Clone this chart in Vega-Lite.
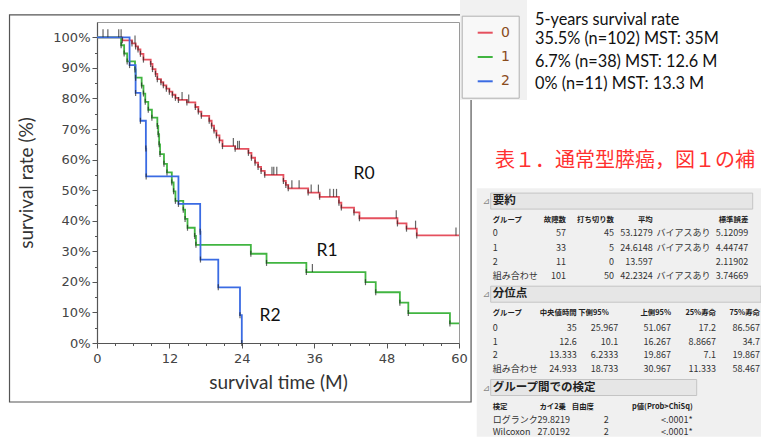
{
  "$schema": "https://vega.github.io/schema/vega-lite/v6.json",
  "width": 362,
  "height": 321,
  "autosize": "none",
  "padding": {"left": 97, "top": 22, "right": 302, "bottom": 95},
  "background": "white",
  "config": {
    "view": {"stroke": "#9a9a9a", "strokeWidth": 1},
    "axis": {"domainColor": "#555", "domainWidth": 1.2, "tickColor": "#555", "labelFont": "DejaVu Sans", "labelFontSize": 13, "labelColor": "#444", "titleFont": "Lato", "titleFontSize": 19, "titleFontWeight": "normal", "titleColor": "#333", "grid": false, "labelOverlap": false, "labelFlush": false}
  },
  "datasets": {
    "km": [
      {"g": "0", "t": 0, "s": 100, "k": "start"},
      {"g": "0", "t": 1.0, "s": 100, "k": "c"},
      {"g": "0", "t": 1.8, "s": 100, "k": "c"},
      {"g": "0", "t": 3.6, "s": 100, "k": "c"},
      {"g": "0", "t": 4.0, "s": 100, "k": "c"},
      {"g": "0", "t": 4.2, "s": 99.0, "k": "e"},
      {"g": "0", "t": 5.8, "s": 98.0, "k": "e"},
      {"g": "0", "t": 6.3, "s": 98.0, "k": "c"},
      {"g": "0", "t": 6.4, "s": 97.0, "k": "e"},
      {"g": "0", "t": 6.8, "s": 96.0, "k": "e"},
      {"g": "0", "t": 7.2, "s": 94.6, "k": "e"},
      {"g": "0", "t": 7.7, "s": 92.7, "k": "e"},
      {"g": "0", "t": 8.9, "s": 91.3, "k": "e"},
      {"g": "0", "t": 9.2, "s": 89.6, "k": "e"},
      {"g": "0", "t": 9.7, "s": 88.0, "k": "e"},
      {"g": "0", "t": 10.0, "s": 86.3, "k": "e"},
      {"g": "0", "t": 10.6, "s": 85.3, "k": "e"},
      {"g": "0", "t": 11.0, "s": 84.3, "k": "e"},
      {"g": "0", "t": 11.5, "s": 83.2, "k": "e"},
      {"g": "0", "t": 12.0, "s": 82.2, "k": "e"},
      {"g": "0", "t": 12.5, "s": 81.2, "k": "e"},
      {"g": "0", "t": 13.0, "s": 80.2, "k": "e"},
      {"g": "0", "t": 13.5, "s": 79.5, "k": "e"},
      {"g": "0", "t": 14.1, "s": 79.5, "k": "c"},
      {"g": "0", "t": 14.9, "s": 78.7, "k": "e"},
      {"g": "0", "t": 15.2, "s": 78.7, "k": "c"},
      {"g": "0", "t": 16.3, "s": 77.2, "k": "e"},
      {"g": "0", "t": 16.8, "s": 75.7, "k": "e"},
      {"g": "0", "t": 17.3, "s": 74.3, "k": "e"},
      {"g": "0", "t": 18.6, "s": 72.7, "k": "e"},
      {"g": "0", "t": 19.0, "s": 71.1, "k": "e"},
      {"g": "0", "t": 19.4, "s": 69.5, "k": "e"},
      {"g": "0", "t": 19.8, "s": 67.9, "k": "e"},
      {"g": "0", "t": 20.3, "s": 66.3, "k": "e"},
      {"g": "0", "t": 20.8, "s": 64.4, "k": "e"},
      {"g": "0", "t": 22.6, "s": 64.4, "k": "c"},
      {"g": "0", "t": 22.9, "s": 63.5, "k": "e"},
      {"g": "0", "t": 23.3, "s": 63.5, "k": "c"},
      {"g": "0", "t": 23.6, "s": 63.5, "k": "c"},
      {"g": "0", "t": 25.1, "s": 62.2, "k": "e"},
      {"g": "0", "t": 25.6, "s": 60.6, "k": "e"},
      {"g": "0", "t": 26.2, "s": 59.0, "k": "e"},
      {"g": "0", "t": 26.7, "s": 57.6, "k": "e"},
      {"g": "0", "t": 27.2, "s": 56.3, "k": "e"},
      {"g": "0", "t": 27.8, "s": 55.0, "k": "e"},
      {"g": "0", "t": 29.0, "s": 55.0, "k": "c"},
      {"g": "0", "t": 29.3, "s": 55.0, "k": "c"},
      {"g": "0", "t": 29.8, "s": 55.0, "k": "c"},
      {"g": "0", "t": 30.9, "s": 53.0, "k": "e"},
      {"g": "0", "t": 31.3, "s": 51.7, "k": "e"},
      {"g": "0", "t": 31.7, "s": 50.6, "k": "e"},
      {"g": "0", "t": 32.3, "s": 50.6, "k": "c"},
      {"g": "0", "t": 33.5, "s": 50.6, "k": "c"},
      {"g": "0", "t": 35.0, "s": 49.2, "k": "e"},
      {"g": "0", "t": 35.5, "s": 49.2, "k": "c"},
      {"g": "0", "t": 36.7, "s": 49.2, "k": "c"},
      {"g": "0", "t": 36.9, "s": 47.8, "k": "e"},
      {"g": "0", "t": 38.6, "s": 47.8, "k": "c"},
      {"g": "0", "t": 39.2, "s": 47.8, "k": "c"},
      {"g": "0", "t": 39.7, "s": 47.8, "k": "c"},
      {"g": "0", "t": 40.1, "s": 45.9, "k": "e"},
      {"g": "0", "t": 40.5, "s": 44.3, "k": "e"},
      {"g": "0", "t": 42.6, "s": 42.7, "k": "e"},
      {"g": "0", "t": 43.5, "s": 40.8, "k": "e"},
      {"g": "0", "t": 49.6, "s": 40.8, "k": "c"},
      {"g": "0", "t": 49.8, "s": 39.1, "k": "e"},
      {"g": "0", "t": 51.3, "s": 37.4, "k": "e"},
      {"g": "0", "t": 52.8, "s": 37.4, "k": "c"},
      {"g": "0", "t": 53.0, "s": 35.2, "k": "e"},
      {"g": "0", "t": 59.5, "s": 35.2, "k": "c"},
      {"g": "0", "t": 60, "s": 35.2, "k": "end"},
      {"g": "1", "t": 0, "s": 100, "k": "start"},
      {"g": "1", "t": 4.0, "s": 97.4, "k": "e"},
      {"g": "1", "t": 4.5, "s": 94.7, "k": "e"},
      {"g": "1", "t": 5.0, "s": 92.1, "k": "e"},
      {"g": "1", "t": 6.3, "s": 89.5, "k": "e"},
      {"g": "1", "t": 6.4, "s": 86.8, "k": "e"},
      {"g": "1", "t": 7.4, "s": 84.2, "k": "e"},
      {"g": "1", "t": 7.7, "s": 81.6, "k": "e"},
      {"g": "1", "t": 8.0, "s": 78.9, "k": "e"},
      {"g": "1", "t": 8.5, "s": 76.3, "k": "e"},
      {"g": "1", "t": 9.1, "s": 73.7, "k": "e"},
      {"g": "1", "t": 10.0, "s": 71.0, "k": "e"},
      {"g": "1", "t": 10.15, "s": 68.3, "k": "e"},
      {"g": "1", "t": 10.3, "s": 65.0, "k": "e"},
      {"g": "1", "t": 10.45, "s": 61.8, "k": "e"},
      {"g": "1", "t": 11.1, "s": 58.6, "k": "e"},
      {"g": "1", "t": 11.6, "s": 55.8, "k": "e"},
      {"g": "1", "t": 12.4, "s": 52.5, "k": "e"},
      {"g": "1", "t": 12.7, "s": 49.6, "k": "e"},
      {"g": "1", "t": 13.0, "s": 46.5, "k": "e"},
      {"g": "1", "t": 14.3, "s": 43.6, "k": "e"},
      {"g": "1", "t": 14.6, "s": 40.6, "k": "e"},
      {"g": "1", "t": 15.0, "s": 37.7, "k": "e"},
      {"g": "1", "t": 16.2, "s": 35.0, "k": "e"},
      {"g": "1", "t": 16.4, "s": 32.1, "k": "e"},
      {"g": "1", "t": 25.5, "s": 29.2, "k": "e"},
      {"g": "1", "t": 28.1, "s": 26.2, "k": "e"},
      {"g": "1", "t": 34.7, "s": 23.2, "k": "e"},
      {"g": "1", "t": 35.7, "s": 23.2, "k": "c"},
      {"g": "1", "t": 44.5, "s": 19.9, "k": "e"},
      {"g": "1", "t": 46.2, "s": 16.6, "k": "e"},
      {"g": "1", "t": 50.2, "s": 13.2, "k": "e"},
      {"g": "1", "t": 51.6, "s": 9.8, "k": "e"},
      {"g": "1", "t": 58.5, "s": 6.4, "k": "e"},
      {"g": "1", "t": 60, "s": 6.4, "k": "end"},
      {"g": "2", "t": 0, "s": 100, "k": "start"},
      {"g": "2", "t": 5.4, "s": 90.9, "k": "e"},
      {"g": "2", "t": 6.4, "s": 81.8, "k": "e"},
      {"g": "2", "t": 7.2, "s": 72.7, "k": "e"},
      {"g": "2", "t": 8.1, "s": 63.6, "k": "e"},
      {"g": "2", "t": 8.15, "s": 54.5, "k": "e"},
      {"g": "2", "t": 13.5, "s": 45.5, "k": "e"},
      {"g": "2", "t": 17.1, "s": 36.4, "k": "e"},
      {"g": "2", "t": 17.15, "s": 27.3, "k": "e"},
      {"g": "2", "t": 20.1, "s": 18.2, "k": "e"},
      {"g": "2", "t": 23.7, "s": 9.1, "k": "e"},
      {"g": "2", "t": 24.0, "s": 0, "k": "e"}
    ],
    "labels": [
      {"lab": "R0", "t": 44.26, "s": 55.4},
      {"lab": "R1", "t": 38.12, "s": 30.1},
      {"lab": "R2", "t": 28.68, "s": 8.7}
    ],
    "bars": [
      {"line": 6, "from": 2, "to": 20},
      {"line": 12, "from": 2, "to": 22},
      {"line": 18, "from": 2, "to": 17}
    ],
    "notes": [
      {"part": "annot", "line": 0, "col": 5, "text": "5-years survival rate"},
      {"part": "annot", "line": 1, "col": 5, "text": "35.5% (n=102) MST: 35M"},
      {"part": "annot", "line": 2, "col": 5, "text": "6.7% (n=38) MST: 12.6 M"},
      {"part": "annot", "line": 3, "col": 5, "text": "0% (n=11) MST: 13.3 M"},
      {"part": "title", "line": 4, "col": 4, "text": "表１．通常型膵癌，図１の補"},
      {"part": "sec", "line": 6, "col": 3, "text": "要約"},
      {"part": "head", "line": 7, "col": 3, "text": "グループ"},
      {"part": "head", "line": 7, "col": 6, "text": "故障数"},
      {"part": "head", "line": 7, "col": 11, "text": "打ち切り数"},
      {"part": "head", "line": 7, "col": 13, "text": "平均"},
      {"part": "head", "line": 7, "col": 19, "text": "標準誤差"},
      {"part": "body", "line": 8, "col": 3, "text": "0"},
      {"part": "body", "line": 8, "col": 6, "text": "57"},
      {"part": "body", "line": 8, "col": 11, "text": "45"},
      {"part": "body", "line": 8, "col": 13, "text": "53.1279"},
      {"part": "body", "line": 8, "col": 14, "text": "バイアスあり"},
      {"part": "body", "line": 8, "col": 19, "text": "5.12099"},
      {"part": "body", "line": 9, "col": 3, "text": "1"},
      {"part": "body", "line": 9, "col": 6, "text": "33"},
      {"part": "body", "line": 9, "col": 11, "text": "5"},
      {"part": "body", "line": 9, "col": 13, "text": "24.6148"},
      {"part": "body", "line": 9, "col": 14, "text": "バイアスあり"},
      {"part": "body", "line": 9, "col": 19, "text": "4.44747"},
      {"part": "body", "line": 10, "col": 3, "text": "2"},
      {"part": "body", "line": 10, "col": 6, "text": "11"},
      {"part": "body", "line": 10, "col": 11, "text": "0"},
      {"part": "body", "line": 10, "col": 13, "text": "13.597"},
      {"part": "body", "line": 10, "col": 19, "text": "2.11902"},
      {"part": "body", "line": 11, "col": 3, "text": "組み合わせ"},
      {"part": "body", "line": 11, "col": 6, "text": "101"},
      {"part": "body", "line": 11, "col": 11, "text": "50"},
      {"part": "body", "line": 11, "col": 13, "text": "42.2324"},
      {"part": "body", "line": 11, "col": 14, "text": "バイアスあり"},
      {"part": "body", "line": 11, "col": 19, "text": "3.74669"},
      {"part": "sec", "line": 12, "col": 3, "text": "分位点"},
      {"part": "head", "line": 13, "col": 3, "text": "グループ"},
      {"part": "head", "line": 13, "col": 8, "text": "中央値時間"},
      {"part": "head", "line": 13, "col": 10, "text": "下側95%"},
      {"part": "head", "line": 13, "col": 15, "text": "上側95%"},
      {"part": "head", "line": 13, "col": 18, "text": "25%寿命"},
      {"part": "head", "line": 13, "col": 21, "text": "75%寿命"},
      {"part": "body", "line": 14, "col": 3, "text": "0"},
      {"part": "body", "line": 14, "col": 8, "text": "35"},
      {"part": "body", "line": 14, "col": 12, "text": "25.967"},
      {"part": "body", "line": 14, "col": 15, "text": "51.067"},
      {"part": "body", "line": 14, "col": 18, "text": "17.2"},
      {"part": "body", "line": 14, "col": 21, "text": "86.567"},
      {"part": "body", "line": 15, "col": 3, "text": "1"},
      {"part": "body", "line": 15, "col": 8, "text": "12.6"},
      {"part": "body", "line": 15, "col": 12, "text": "10.1"},
      {"part": "body", "line": 15, "col": 15, "text": "16.267"},
      {"part": "body", "line": 15, "col": 18, "text": "8.8667"},
      {"part": "body", "line": 15, "col": 21, "text": "34.7"},
      {"part": "body", "line": 16, "col": 3, "text": "2"},
      {"part": "body", "line": 16, "col": 8, "text": "13.333"},
      {"part": "body", "line": 16, "col": 12, "text": "6.2333"},
      {"part": "body", "line": 16, "col": 15, "text": "19.867"},
      {"part": "body", "line": 16, "col": 18, "text": "7.1"},
      {"part": "body", "line": 16, "col": 21, "text": "19.867"},
      {"part": "body", "line": 17, "col": 3, "text": "組み合わせ"},
      {"part": "body", "line": 17, "col": 8, "text": "24.933"},
      {"part": "body", "line": 17, "col": 12, "text": "18.733"},
      {"part": "body", "line": 17, "col": 15, "text": "30.967"},
      {"part": "body", "line": 17, "col": 18, "text": "11.333"},
      {"part": "body", "line": 17, "col": 21, "text": "58.467"},
      {"part": "sec", "line": 18, "col": 3, "text": "グループ間での検定"},
      {"part": "head", "line": 19, "col": 3, "text": "検定"},
      {"part": "head", "line": 19, "col": 6, "text": "カイ2乗"},
      {"part": "head", "line": 19, "col": 9, "text": "自由度"},
      {"part": "head", "line": 19, "col": 16, "text": "p値(Prob>ChiSq)"},
      {"part": "body", "line": 20, "col": 3, "text": "ログランク"},
      {"part": "body", "line": 20, "col": 7, "text": "29.8219"},
      {"part": "body", "line": 20, "col": 10, "text": "2"},
      {"part": "body", "line": 20, "col": 16, "text": "<.0001*"},
      {"part": "body", "line": 21, "col": 3, "text": "Wilcoxon"},
      {"part": "body", "line": 21, "col": 7, "text": "27.0192"},
      {"part": "body", "line": 21, "col": 10, "text": "2"},
      {"part": "body", "line": 21, "col": 16, "text": "<.0001*"}
    ]
  },
  "layer": [
    {
      "layer": [
        {
          "data": {"values": [{}]},
          "mark": {"type": "rect", "fill": "transparent", "stroke": "#555", "strokeWidth": 1.2, "clip": false},
          "encoding": {
            "x": {"datum": -14.5, "type": "quantitative", "scale": {"domain": [0, 60], "nice": false, "zero": false}},
            "x2": {"datum": 62},
            "y": {"datum": 107.3, "type": "quantitative", "scale": {"domain": [0, 105], "nice": false, "zero": false}},
            "y2": {"datum": -19.3}
          }
        },
        {
          "data": {"values": [{}]},
          "mark": {"type": "rect", "fill": "#f1f1f1", "clip": false},
          "encoding": {
            "x": {"datum": 60.17, "type": "quantitative"},
            "x2": {"datum": 71.27},
            "y": {"datum": 112.2, "type": "quantitative"},
            "y2": {"datum": 79.5}
          }
        },
        {
          "data": {"name": "km"},
          "mark": {"type": "line", "interpolate": "step-after", "strokeWidth": 1.8},
          "encoding": {
            "x": {"field": "t", "type": "quantitative", "scale": {"domain": [0, 60], "nice": false, "zero": false},
              "axis": {"title": "survival time (M)", "values": [0, 3, 6, 9, 12, 15, 18, 21, 24, 27, 30, 33, 36, 39, 42, 45, 48, 51, 54, 57, 60], "tickCount": 40,
                "labelExpr": "datum.value % 12 === 0 ? datum.label : ''", "labelOverlap": false,
                "tickSize": {"condition": {"test": "datum.value % 12 === 0", "value": 5}, "value": 2.5},
                "labelPadding": 4, "titleY": 45.3, "titleBaseline": "alphabetic"}},
            "y": {"field": "s", "type": "quantitative", "scale": {"domain": [0, 105], "nice": false, "zero": false},
              "axis": {"title": "survival rate (%)", "values": [0, 5, 10, 15, 20, 25, 30, 35, 40, 45, 50, 55, 60, 65, 70, 75, 80, 85, 90, 95, 100], "tickCount": 40,
                "labelExpr": "datum.value % 10 === 0 ? datum.label + '%' : ''", "labelOverlap": false,
                "tickSize": {"condition": {"test": "datum.value % 10 === 0", "value": 5}, "value": 2.5},
                "labelPadding": 2, "titleX": -65, "titleY": 160.5, "titleAngle": -90, "titleAlign": "center", "titleBaseline": "alphabetic"}},
            "color": {"field": "g", "type": "nominal",
              "scale": {"domain": ["0", "1", "2"], "range": ["#e5505e", "#41b541", "#3a6be3"]},
              "legend": {"orient": "none", "legendX": 364.7, "legendY": -6.3, "title": null, "direction": "vertical",
                "symbolType": "stroke", "symbolStrokeWidth": 2, "symbolSize": 225, "symbolOffset": 6.5,
                "labelFont": "DejaVu Sans", "labelFontSize": 14, "labelColor": "#8a4b1c", "labelOffset": 7.3,
                "padding": 8.5, "rowPadding": 8.3, "strokeColor": "#b0b0b0", "fillColor": "#f8f8f8"}}
          }
        },
        {
          "data": {"name": "km"},
          "transform": [{"filter": "datum.k === 'e'"}],
          "mark": {"type": "tick", "orient": "vertical", "color": "#222", "thickness": 1.2, "size": 6},
          "encoding": {
            "x": {"field": "t", "type": "quantitative"},
            "y": {"field": "s", "type": "quantitative"}
          }
        },
        {
          "data": {"name": "km"},
          "transform": [{"filter": "datum.k === 'c'"}],
          "mark": {"type": "tick", "orient": "vertical", "color": "#222", "thickness": 1.2, "size": 8, "yOffset": -4},
          "encoding": {
            "x": {"field": "t", "type": "quantitative"},
            "y": {"field": "s", "type": "quantitative"}
          }
        },
        {
          "data": {"name": "labels"},
          "mark": {"type": "text", "font": "Lato", "fontSize": 17.5, "color": "#111", "align": "center", "baseline": "middle"},
          "encoding": {
            "x": {"field": "t", "type": "quantitative"},
            "y": {"field": "s", "type": "quantitative"},
            "text": {"field": "lab"}
          }
        }
      ]
    },
    {
      "layer": [
        {
          "data": {"values": [{}]},
          "mark": {"type": "rect", "fill": "#f0f0f0", "clip": false},
          "encoding": {
            "x": {"datum": 0, "type": "quantitative", "scale": {"domain": [0,1,2,3,4,5,6,7,8,9,10,11,12,13,14,15,16,17,18,19,20,21,22], "range": [379.7,389.5,393.7,395.7,398,438,469,473,479.7,497,511.8,517,521.3,555.7,559.5,574,595.7,599.7,619,651.3,655.7,663,664], "nice": false, "zero": false}, "axis": null},
            "x2": {"datum": 22},
            "y": {"datum": 5, "type": "quantitative", "scale": {"domain": [0,1,2,3,4,5,6,7,8,9,10,11,12,13,14,15,16,17,18,19,20,21,22], "range": [-1.8,21.5,44.5,67.3,144.5,166.3,179.1,198,211.3,225.6,239.7,254,272.2,291.3,306.3,319.7,333,347.3,365.5,385.2,398.4,410.3,416], "nice": false, "zero": false}, "axis": null},
            "y2": {"datum": 22}
          }
        },
        {
          "data": {"name": "bars"},
          "mark": {"type": "bar", "orient": "horizontal", "size": 16, "fill": "#e6e6e6", "stroke": "#c4c4c4", "strokeWidth": 1, "clip": false},
          "encoding": {
            "x": {"field": "from", "type": "quantitative"},
            "x2": {"field": "to"},
            "y": {"field": "line", "type": "quantitative"}
          }
        },
        {
          "data": {"name": "bars"},
          "mark": {"type": "text", "text": "⊿", "font": "DejaVu Sans", "fontSize": 9, "color": "#888", "align": "center", "baseline": "middle"},
          "encoding": {
            "x": {"datum": 1, "type": "quantitative"},
            "y": {"field": "line", "type": "quantitative"}
          }
        },
        {
          "data": {"name": "notes"},
          "transform": [{"filter": "datum.part === 'sec'"}],
          "mark": {"type": "text", "font": "Noto Sans CJK JP", "fontSize": 11.5, "fontWeight": "bold", "color": "#222", "align": "left", "baseline": "middle"},
          "encoding": {
            "x": {"field": "col", "type": "quantitative"},
            "y": {"field": "line", "type": "quantitative"},
            "text": {"field": "text"}
          }
        },
        {
          "data": {"name": "notes"},
          "transform": [{"filter": "datum.part === 'annot'"}],
          "mark": {"type": "text", "font": "Lato", "fontSize": 16.3, "color": "#111", "align": "left", "baseline": "alphabetic"},
          "encoding": {
            "x": {"field": "col", "type": "quantitative"},
            "y": {"field": "line", "type": "quantitative"},
            "text": {"field": "text"}
          }
        },
        {
          "data": {"name": "notes"},
          "transform": [{"filter": "datum.part === 'title'"}],
          "mark": {"type": "text", "font": "Noto Sans CJK JP", "fontSize": 20, "color": "#ff3030", "align": "left", "baseline": "alphabetic"},
          "encoding": {
            "x": {"field": "col", "type": "quantitative"},
            "y": {"field": "line", "type": "quantitative"},
            "text": {"field": "text"}
          }
        },
        {
          "data": {"name": "notes"},
          "transform": [{"filter": "datum.part === 'head' && datum.col === 3"}],
          "mark": {"type": "text", "font": "Noto Sans CJK JP", "fontSize": 7.4, "fontWeight": "bold", "color": "#222", "align": "left", "baseline": "middle"},
          "encoding": {
            "x": {"field": "col", "type": "quantitative"},
            "y": {"field": "line", "type": "quantitative"},
            "text": {"field": "text"}
          }
        },
        {
          "data": {"name": "notes"},
          "transform": [{"filter": "datum.part === 'head' && datum.col !== 3"}],
          "mark": {"type": "text", "font": "Noto Sans CJK JP", "fontSize": 7.4, "fontWeight": "bold", "color": "#222", "align": "right", "baseline": "middle"},
          "encoding": {
            "x": {"field": "col", "type": "quantitative"},
            "y": {"field": "line", "type": "quantitative"},
            "text": {"field": "text"}
          }
        },
        {
          "data": {"name": "notes"},
          "transform": [{"filter": "datum.part === 'body' && (datum.col === 3 || datum.col === 14)"}],
          "mark": {"type": "text", "font": "Noto Sans CJK JP", "fontSize": 9, "color": "#333", "align": "left", "baseline": "middle"},
          "encoding": {
            "x": {"field": "col", "type": "quantitative"},
            "y": {"field": "line", "type": "quantitative"},
            "text": {"field": "text"}
          }
        },
        {
          "data": {"name": "notes"},
          "transform": [{"filter": "datum.part === 'body' && datum.col !== 3 && datum.col !== 14"}],
          "mark": {"type": "text", "font": "Noto Sans CJK JP", "fontSize": 9, "color": "#333", "align": "right", "baseline": "middle"},
          "encoding": {
            "x": {"field": "col", "type": "quantitative"},
            "y": {"field": "line", "type": "quantitative"},
            "text": {"field": "text"}
          }
        }
      ]
    }
  ],
  "resolve": {"scale": {"x": "independent", "y": "independent"}, "axis": {"x": "independent", "y": "independent"}}
}
